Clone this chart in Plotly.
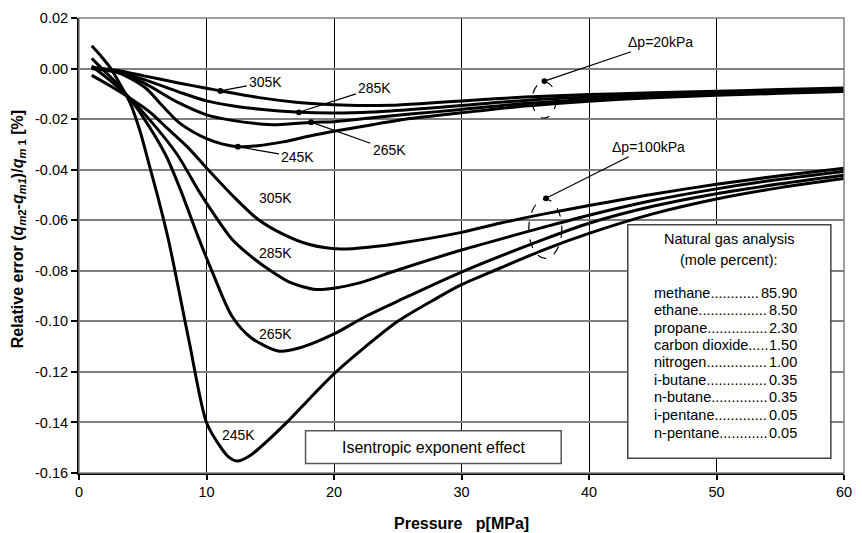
import plotly.graph_objects as go

# ---------------- data ----------------
# dp = 100 kPa curves
p_245_100 = [1, 1.8, 2.5, 3.2, 4, 4.8, 5.5, 6.3, 7.07, 8.6, 10, 11, 11.7, 12.45, 13.3, 14, 16.4, 18, 20, 22, 25, 28, 30, 33, 36.5, 40, 45, 50, 55, 60]
e_245_100 = [0.009, 0.0045, 0.0, -0.006, -0.0135, -0.025, -0.038, -0.053, -0.069, -0.107, -0.14, -0.149, -0.1535, -0.1553, -0.1535, -0.1508, -0.1395, -0.131, -0.1208, -0.112, -0.1, -0.091, -0.0855, -0.079, -0.0716, -0.0652, -0.0575, -0.0516, -0.0471, -0.0435]

p_265_100 = [1, 2, 3, 3.9, 5, 6.8, 8, 9.3, 10.5, 12, 13.5, 15.7, 17.5, 20, 22.5, 25, 30, 36.5, 40, 45, 50, 55, 60]
e_265_100 = [0.004, -0.001, -0.006, -0.0114, -0.019, -0.0342, -0.0485, -0.066, -0.081, -0.098, -0.1065, -0.1118, -0.1102, -0.105, -0.098, -0.092, -0.0805, -0.0675, -0.0612, -0.0545, -0.0495, -0.0456, -0.0422]

p_285_100 = [1, 2.5, 3.9, 5.5, 7.7, 9.4, 10.5, 12, 13.3, 14.6, 16.5, 18.6, 20, 22, 25, 30, 36.5, 40, 45, 50, 55, 60]
e_285_100 = [0.001, -0.005, -0.0114, -0.02, -0.034, -0.0485, -0.057, -0.0675, -0.0735, -0.0785, -0.0845, -0.0874, -0.0869, -0.0848, -0.0797, -0.0718, -0.0627, -0.058, -0.0522, -0.0476, -0.0438, -0.0407]

p_305_100 = [1, 2.5, 3.9, 5.5, 7, 8.5, 10, 12, 14, 16, 18, 20.5, 23, 25, 30, 33, 36.5, 40, 45, 50, 55, 60]
e_305_100 = [-0.0027, -0.007, -0.0114, -0.017, -0.024, -0.031, -0.0393, -0.05, -0.0595, -0.0655, -0.0695, -0.0714, -0.0705, -0.0692, -0.0648, -0.0612, -0.0575, -0.0542, -0.0497, -0.0458, -0.0424, -0.0394]

# dp = 20 kPa curves
p_305_20 = [1, 3, 5, 7.8, 10, 11.08, 14, 17, 19.2, 21.8, 24.4, 27, 30, 35, 40, 45, 50, 55, 60]
e_305_20 = [0.0005, -0.0008, -0.0028, -0.0057, -0.0078, -0.0088, -0.0114, -0.0133, -0.0141, -0.0146, -0.0145, -0.0138, -0.0128, -0.0113, -0.0103, -0.0096, -0.009, -0.0083, -0.0077]

p_285_20 = [1, 3, 5, 7.8, 10, 12, 14, 17.3, 20, 23, 26, 30, 35, 40, 45, 50, 55, 60]
e_285_20 = [0.0003, -0.0012, -0.0042, -0.0092, -0.0128, -0.0147, -0.016, -0.0173, -0.0176, -0.0172, -0.0162, -0.0146, -0.0126, -0.0113, -0.0104, -0.0096, -0.0088, -0.0081]

p_265_20 = [1, 3, 5, 7.8, 10, 12, 14, 15.6, 18.2, 20, 23, 26, 30, 35, 40, 45, 50, 55, 60]
e_265_20 = [0.0, -0.0015, -0.0055, -0.0135, -0.0183, -0.0205, -0.0218, -0.0222, -0.0213, -0.021, -0.0195, -0.018, -0.0162, -0.0138, -0.0122, -0.011, -0.0101, -0.0093, -0.0086]

p_245_20 = [1, 3, 5.2, 6.5, 7.8, 9, 10, 11.2, 12.45, 14, 16, 18, 20, 23, 26, 30, 35, 40, 45, 50, 55, 60]
e_245_20 = [0.0, -0.0015, -0.0076, -0.0145, -0.0212, -0.0252, -0.0277, -0.0298, -0.0309, -0.0305, -0.029, -0.0268, -0.0248, -0.0222, -0.0198, -0.0175, -0.0148, -0.0129, -0.0115, -0.0106, -0.0098, -0.0091]

x_ticks = [0, 10, 20, 30, 40, 50, 60]
x_ticktext = ["0", "10", "20", "30", "40", "50", "60"]
y_ticks = [0.02, 0.0, -0.02, -0.04, -0.06, -0.08, -0.10, -0.12, -0.14, -0.16]
y_ticktext = ["0.02", "0.00", "-0.02", "-0.04", "-0.06", "-0.08", "-0.10", "-0.12", "-0.14", "-0.16"]

gas_names = ["methane", "ethane", "propane", "carbon dioxide", "nitrogen",
             "i-butane", "n-butane", "i-pentane", "n-pentane"]
gas_values = ["85.90", "8.50", "2.30", "1.50", "1.00", "0.35", "0.35", "0.05", "0.05"]
gas_dots = [12, 17, 15, 5, 15, 15, 14, 13, 12]

FONT = "Liberation Sans, Arial, sans-serif"

fig = go.Figure()

curves = [
    (p_245_100, e_245_100), (p_265_100, e_265_100), (p_285_100, e_285_100), (p_305_100, e_305_100),
    (p_305_20, e_305_20), (p_285_20, e_285_20), (p_265_20, e_265_20), (p_245_20, e_245_20),
]
for px_, ey_ in curves:
    fig.add_trace(go.Scatter(x=px_, y=ey_, mode="lines",
                             line=dict(color="black", width=3, shape="spline", smoothing=0.8),
                             showlegend=False, hoverinfo="skip"))

shapes = []
# plot frame (grey top/right)
shapes.append(dict(type="rect", xref="paper", yref="paper", x0=0, x1=1, y0=0, y1=1,
                   line=dict(color="#808080", width=1.5), layer="above"))
# dashed ellipses
shapes.append(dict(type="circle", xref="x", yref="y", x0=35.54, x1=37.41, y0=-0.0196, y1=-0.0053,
                   line=dict(color="black", width=1.2, dash="dash"), layer="above"))
shapes.append(dict(type="circle", xref="x", yref="y", x0=35.28, x1=37.87, y0=-0.0751, y1=-0.0517,
                   line=dict(color="black", width=1.2, dash="dash"), layer="above"))
# gas analysis box
shapes.append(dict(type="rect", xref="x", yref="y", x0=43.04, x1=58.97, y0=-0.15417, y1=-0.06183,
                   line=dict(color="#444444", width=1.5), fillcolor="white", layer="above"))
# isentropic box
shapes.append(dict(type="rect", xref="x", yref="y", x0=17.77, x1=37.82, y0=-0.15623, y1=-0.14326,
                   line=dict(color="#555555", width=1.5), fillcolor="white", layer="above"))

ann = []
lab_font = dict(family=FONT, size=14, color="black")

# 100 kPa curve labels
for t, x, y in [("305K", 15.4, -0.0512), ("285K", 15.4, -0.0729), ("265K", 15.4, -0.1052), ("245K", 12.54, -0.1448)]:
    ann.append(dict(x=x, y=y, xref="x", yref="y", text=t, showarrow=False, font=lab_font))

# 20 kPa labels with leader lines and dots
for t, xd, yd, xt, yt in [
    ("305K", 11.09, -0.00884, 14.65, -0.00545),
    ("285K", 17.25, -0.0173, 23.21, -0.00756),
    ("265K", 18.2, -0.0212, 24.34, -0.03222),
    ("245K", 12.46, -0.03093, 17.17, -0.03507),
    ("\u0394p=20kPa", 36.5, -0.00495, 45.58, 0.01052),
    ("\u0394p=100kPa", 36.63, -0.05131, 44.66, -0.03093),
]:
    ann.append(dict(x=xd, y=yd, xref="x", yref="y", ax=xt, ay=yt, axref="x", ayref="y",
                    text=t, showarrow=True, arrowhead=6, arrowsize=1.2, arrowwidth=1.2,
                    arrowcolor="black", standoff=0, startstandoff=1, font=lab_font))

# box texts
box_font = dict(family=FONT, size=14.5, color="black")
ann.append(dict(x=50.99, y=-0.06756, xref="x", yref="y", text="Natural gas analysis",
                showarrow=False, font=box_font))
ann.append(dict(x=50.99, y=-0.07574, xref="x", yref="y", text="(mole percent):",
                showarrow=False, font=box_font))
gas_y = [-0.08871, -0.09561, -0.10247, -0.10925, -0.1161, -0.12311, -0.12999, -0.13701, -0.14403]
for name, val, nd, y in zip(gas_names, gas_values, gas_dots, gas_y):
    ann.append(dict(x=45.05, y=y, xref="x", yref="y", text=name + "." * nd, showarrow=False,
                    xanchor="left", borderpad=0, font=box_font))
    ann.append(dict(x=56.38, y=y, xref="x", yref="y", text=val, showarrow=False,
                    xanchor="right", borderpad=0, font=box_font))
ann.append(dict(x=27.8, y=-0.14975, xref="x", yref="y", text="Isentropic exponent effect",
                showarrow=False, font=dict(family=FONT, size=16, color="black")))

# axis titles
ann.append(dict(x=-0.079, y=0.5346, xref="paper", yref="paper", textangle=-90, showarrow=False,
                xanchor="center", yanchor="middle",
                text="<b>Relative error (<i>q</i><sub><i>m</i>2</sub>-<i>q</i><sub><i>m1</i></sub>)/<i>q</i><sub><i>m</i> 1</sub> [%]</b>",
                font=dict(family=FONT, size=16, color="black")))
ann.append(dict(x=0.5, y=-0.110, xref="paper", yref="paper", showarrow=False,
                xanchor="center", yanchor="middle",
                text="<b>Pressure   p[MPa]</b>", font=dict(family=FONT, size=16, color="black")))

fig.update_layout(
    width=862, height=533,
    margin=dict(l=79, r=10, t=11, b=60),
    paper_bgcolor="white", plot_bgcolor="white",
    font=dict(family=FONT, size=14.5, color="black"),
    shapes=shapes, annotations=ann, showlegend=False,
)
fig.update_xaxes(range=[0, 60], tickvals=x_ticks, ticktext=x_ticktext,
                 showgrid=True, gridcolor="black", gridwidth=1,
                 showline=True, linecolor="black", linewidth=2,
                 ticks="outside", ticklen=5, tickcolor="black", tickwidth=1.5,
                 zeroline=False, tickfont=dict(family=FONT, size=14.5, color="black"))
fig.update_yaxes(range=[-0.16, 0.02], tickvals=y_ticks, ticktext=y_ticktext,
                 showgrid=True, gridcolor="#808080", gridwidth=1.5,
                 showline=True, linecolor="black", linewidth=2,
                 ticks="outside", ticklen=6, tickcolor="black", tickwidth=1.5,
                 zeroline=False, tickfont=dict(family=FONT, size=14.5, color="black"))

fig.write_html("out.html", config={"displayModeBar": False},
               post_script="document.body.style.margin='0px';document.body.style.padding='0px';"
                           "document.documentElement.style.overflow='hidden';")
